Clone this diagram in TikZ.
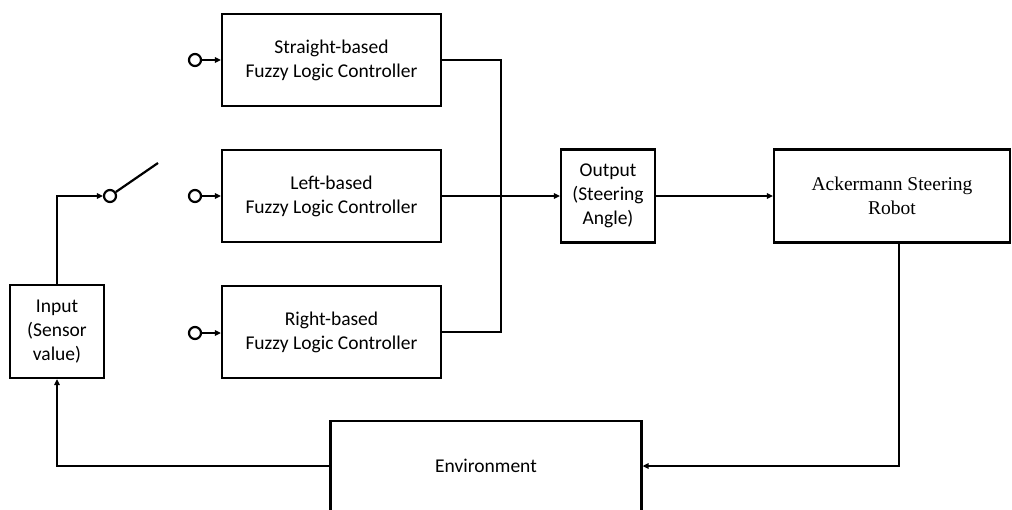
\documentclass[tikz,border=0pt]{standalone}
\usepackage{fontspec}
\setmainfont{Carlito}
\newfontfamily\serifrm{Liberation Serif}
\usetikzlibrary{arrows.meta}
\begin{document}
\begin{tikzpicture}[x=1pt,y=-1pt,
  box/.style={draw,line width=2.2pt,inner sep=0pt,align=center,font=\fontsize{19.5}{24}\selectfont},
  conn/.style={line width=2.2pt},
  arr/.style={conn,-{Triangle[length=6pt,width=5.5pt]}},
  term/.style={circle,draw,line width=2.2pt,minimum size=12pt,inner sep=0pt}]
\useasboundingbox (0,0) rectangle (1012,509);
\begin{scope}
\clip (0,0) rectangle (1012,509);
\node[box,minimum width=219pt,minimum height=92pt] (sfc) at (331.5,60) {Straight-based\\Fuzzy Logic Controller};
\node[box,minimum width=219pt,minimum height=92pt] (lfc) at (331.5,196) {Left-based\\Fuzzy Logic Controller};
\node[box,minimum width=219pt,minimum height=92pt] (rfc) at (331.5,332) {Right-based\\Fuzzy Logic Controller};
\node[box,minimum width=94pt,minimum height=93pt] (out) at (608,196) {Output\\(Steering\\Angle)};
\node[box,minimum width=236pt,minimum height=93pt,font=\serifrm\fontsize{19.5}{24}\selectfont] (rob) at (892,196) {Ackermann Steering\\Robot};
\node[box,minimum width=94pt,minimum height=93pt] (inp) at (57,331.5) {Input\\(Sensor\\value)};
\node[box,minimum width=311pt,minimum height=120pt] (env) at (486,481) {};
\node[font=\fontsize{19.5}{24}\selectfont] at (486,466) {Environment};
\node[term] (t1) at (195,60) {};
\node[term] (t2) at (195,196) {};
\node[term] (t3) at (195,333) {};
\node[term] (sw) at (110,196) {};
\coordinate (lever) at (158,163);
\draw[arr] (t1) -- (sfc.west |- t1);
\draw[arr] (t2) -- (lfc.west |- t2);
\draw[arr] (t3) -- (rfc.west |- t3);
\draw[conn] (sw) -- (lever);
\draw[arr] (inp.north) |- (sw.west);
\draw[conn] (sfc.east) -- (501,60) -- (501,332) -- (rfc.east);
\draw[arr] (lfc.east) -- (out.west);
\draw[arr] (out.east) -- (rob.west |- out.east);
\draw[arr] (rob.south -| 899,0) |- (env.east |- 0,466);
\draw[arr] (env.west |- 0,466) -| (inp.south);
\end{scope}
\end{tikzpicture}
\end{document}
